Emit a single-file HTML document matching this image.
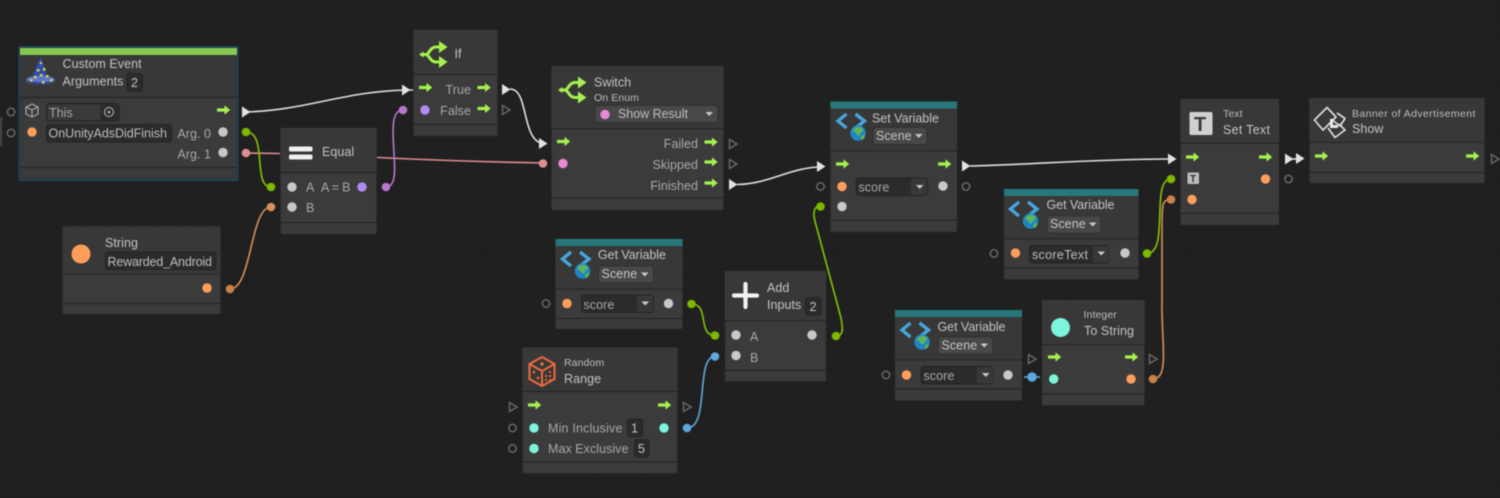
<!DOCTYPE html>
<html><head><meta charset="utf-8"><style>
html,body{margin:0;padding:0;background:#202020;width:1500px;height:498px;overflow:hidden}
svg{display:block;filter:blur(.4px)}
text{font-family:"Liberation Sans",sans-serif;font-size:12.5px;fill:#bdbdbd;letter-spacing:.05px}
.s{font-size:10.5px;letter-spacing:.1px}
.h{fill:#c4c4c4}
.d{fill:#a8a8a8}
.e{text-anchor:end}
.n{fill:#3b3b3b;stroke:#2a2a2a;stroke-width:.5}
.hd{fill:#383838}
.sep{stroke:#252525;stroke-width:1.2}
.f{fill:#2b2b2b;stroke:#242424;stroke-width:1}
.dd{fill:#484848;stroke:#2c2c2c;stroke-width:.8}
.c{fill:none;stroke-width:1.6}
</style></head><body>
<svg width="1500" height="498" viewBox="0 0 1500 498" xmlns="http://www.w3.org/2000/svg">
<defs>
<pattern id="g" width="117.35" height="117.35" patternUnits="userSpaceOnUse" x="12.2" y="16">
<path d="M23.47 0V117.35M46.94 0V117.35M70.41 0V117.35M93.88 0V117.35M0 23.47H117.35M0 46.94H117.35M0 70.41H117.35M0 93.88H117.35" stroke="#1f1f1f" stroke-width="1" fill="none"/>
<path d="M0 0V117.35M0 0H117.35" stroke="#1b1b1b" stroke-width="1" fill="none"/>
</pattern>
<path id="ar" d="M0-1.6H7.5V-4.6L13.2 0 7.5 4.6V1.6H0Z" fill="#a6f04e"/>
<path id="te" d="M-3.5-4.5 4 0-3.5 4.5Z" fill="none" stroke="#6b6b6b" stroke-width="1.4"/>
<path id="tf" d="M-4-5.5 4.5 0-4 5.5Z" fill="#e2e2e2"/>
<circle id="rg" r="3.7" fill="none" stroke="#696969" stroke-width="1.5"/>
<g id="br">
<path d="M-11 0H-7C-4 0-3-7.500 3-7.500H8M-7 0C-4 0-3 7.500 3 7.500H8" fill="none" stroke="#a6f04e" stroke-width="3"/>
<path d="M6-13.500 14.500-7.500 6-1.500ZM6 1.500 14.500 7.500 6 13.500Z" fill="#a6f04e"/>
<path d="M-14 0-9.500-3V3Z" fill="#a6f04e"/>
</g>
<g id="va">
<path d="M-7.500-8-16-1-7.500 6M1.500-8 10.500-1 1.500 6" fill="none" stroke="#45a6dc" stroke-width="3.4"/>
<circle cx="4" cy="11" r="7.700" fill="#1f86c4"/>
<path d="M-1 8C1 4 7 4 9 7 10 10 7 10 6 12 5 15 3 13 2 11 1 10-1 10-1 8ZM7 15C8 13 10 13 11 13 11 16 9 18 7 18Z" fill="#5fb35a"/>
</g>
</defs>
<rect width="1500" height="498" fill="#202020"/>
<rect width="1500" height="498" fill="url(#g)"/>
<rect x="0" y="117" width="2" height="29" fill="#4a4a4a"/>

<!-- connectors behind nodes -->
<path class="c" stroke="#e08d93" d="M246 153 L280 153.5 M377 157.5 C430 160 490 162 543 163"/>
<path class="c" stroke="#e0e0e0" d="M246 112C310 110 345 90 413 90"/>
<path class="c" stroke="#84c400" d="M246 132C268 132 252 187 271 187"/>
<path class="c" stroke="#d7905a" d="M230 289C252 289 250 207 271 207"/>
<path class="c" stroke="#b878cc" d="M386 187C407 187 380 110 403 110"/>
<path class="c" stroke="#e0e0e0" d="M510 89C530 89 520 144 546 144"/>
<path class="c" stroke="#e0e0e0" d="M737 184.500C770 184 790 167 822 167"/>
<path class="c" stroke="#84c400" d="M836 336C845 336 842 325 841 318 L816 225C812 212 814 206 820.500 206.500"/>
<path class="c" stroke="#84c400" d="M691.500 304C710 304 697 335.500 715 335.500"/>
<path class="c" stroke="#5fa8dc" d="M687 428C710 428 695 356.500 715 356.500"/>
<path class="c" stroke="#e0e0e0" d="M970 166C1040 164 1100 159 1170 159"/>
<path class="c" stroke="#84c400" d="M1147 253.500C1170 253 1150 179 1171 179"/>
<path class="c" stroke="#d7905a" d="M1153 379C1170 379 1161 340 1162 300 L1162 225C1162 205 1162 199.500 1171 199.500"/>
<path class="c" stroke="#5fa8dc" d="M1024 377H1040"/>
<path class="c" stroke="#e0e0e0" d="M1290 159H1302"/>

<!-- Custom Event -->
<rect x="18.500" y="46" width="220" height="135" rx="2" fill="#1c4a5c"/>
<rect x="20" y="48" width="217" height="131" class="n"/>
<rect x="20" y="48" width="217" height="7" fill="#85c853"/>
<rect x="20" y="55" width="217" height="42" class="hd"/>
<path class="sep" d="M20 97.500H237M20 167.500H237"/>
<path d="M41 57 C38 62 34 72 32 79 L48 80 C46 72 43 63 41 57Z" fill="#2f4fb0"/>
<ellipse cx="40.500" cy="80" rx="14.500" ry="4.500" fill="#5a78cc"/>
<path d="M26 80C32 86 49 86 55 80 49 83 32 83 26 80Z" fill="#2f4090"/>
<path d="M40 62h2v2h-2ZM37 69h2.500v2.500h-2.500ZM43 68h2.500v2.500h-2.500ZM40 74h2.500v2.500h-2.500ZM34 76h2.500v2.500h-2.500ZM46 75h2.500v2.500h-2.500ZM30 79h2.500v2.500h-2.500ZM50 79h2.500v2.500h-2.500ZM42 81h2.500v2.500h-2.500Z" fill="#e6d23c"/>
<text x="62.500" y="68" class="h">Custom Event</text>
<text x="62.500" y="85.500" class="h">Arguments</text>
<rect x="127" y="73.500" width="15.500" height="17.500" rx="2.500" class="f"/>
<text x="131" y="87" class="h">2</text>
<use href="#rg" x="11" y="112"/><use href="#rg" x="11" y="133"/>
<path d="M32 104 38 107V114L32 117 26 114V107ZM26 107 32 110 38 107M32 110V117" fill="none" stroke="#b5b5b5" stroke-width="1"/>
<rect x="46.500" y="103.500" width="72.500" height="17.500" rx="2.500" class="f"/>
<rect x="47.500" y="104.500" width="53" height="15.500" fill="#3a3a3a"/>
<text x="49" y="117" class="d">This</text>
<circle cx="109" cy="112" r="4.500" fill="none" stroke="#bbb" stroke-width="1"/><circle cx="109" cy="112" r="1.300" fill="#bbb"/>
<circle cx="32" cy="132" r="4.700" fill="#ff9e5a"/>
<rect x="46.500" y="124.500" width="125" height="17.500" rx="2.500" class="f"/>
<text x="48.500" y="137.500" textLength="118.500">OnUnityAdsDidFinish</text>
<text x="211" y="138" class="e d">Arg. 0</text>
<text x="211" y="158.500" class="e d">Arg. 1</text>
<circle cx="223" cy="132" r="4.700" fill="#c8c8c8"/><circle cx="223" cy="152.500" r="4.700" fill="#c8c8c8"/>
<use href="#ar" x="217" y="110"/>
<use href="#tf" x="246" y="112"/>
<circle cx="246" cy="132" r="4.300" fill="#7cb800"/><circle cx="246" cy="153" r="4.300" fill="#e08d93"/>

<!-- Equal -->
<rect x="280.500" y="128" width="96" height="106" rx="1.500" class="n"/>
<rect x="280.500" y="128" width="96" height="44" class="hd"/>
<path class="sep" d="M280.500 172.500H376.500M280.500 222.500H376.500"/>
<rect x="289" y="146.500" width="23.500" height="5" rx="1.500" fill="#f0f0f0"/><rect x="289" y="154.500" width="23.500" height="5" rx="1.500" fill="#f0f0f0"/>
<text x="322" y="156" class="h">Equal</text>
<circle cx="292" cy="187" r="4.700" fill="#c8c8c8"/><circle cx="292" cy="207" r="4.700" fill="#c8c8c8"/>
<text x="306" y="191.500" class="d">A</text><text x="306" y="212" class="d">B</text>
<text x="321" y="191.500" class="d" textLength="29.500">A = B</text>
<circle cx="362" cy="187" r="4.700" fill="#b08cf0"/>
<circle cx="271" cy="187" r="4.300" fill="#7cb800"/><circle cx="271" cy="207" r="4.300" fill="#d7905a"/>
<circle cx="386" cy="187" r="4.300" fill="#b878cc"/>

<!-- String -->
<rect x="62.500" y="226.500" width="158" height="87.500" rx="1.500" class="n"/>
<rect x="62.500" y="226.500" width="158" height="47" class="hd"/>
<path class="sep" d="M62.500 273.800H220.500M62.500 303.500H220.500"/>
<circle cx="81" cy="254" r="9.500" fill="#ff9e5a"/>
<text x="105" y="247" class="h">String</text>
<rect x="105.500" y="252" width="110.500" height="17.500" rx="2.500" class="f"/>
<text x="107.500" y="266" textLength="104.500">Rewarded_Android</text>
<circle cx="207" cy="288" r="4.700" fill="#ff9e5a"/>
<circle cx="230" cy="289" r="4.300" fill="#c98248"/>

<!-- If -->
<rect x="413.500" y="30" width="84" height="106" rx="1.500" class="n"/>
<rect x="413.500" y="30" width="84" height="44" class="hd"/>
<path class="sep" d="M413.500 74.500H497.500M413.500 124.500H497.500"/>
<use href="#br" x="433" y="54.500"/>
<text x="454.500" y="58" class="h">If</text>
<use href="#ar" x="419" y="87.500"/><use href="#ar" x="477.500" y="87.500"/><use href="#ar" x="477.500" y="108.500"/>
<text x="471" y="94" class="e d">True</text><text x="471" y="115" class="e d">False</text>
<circle cx="425" cy="110" r="4.700" fill="#b08cf0"/>
<use href="#tf" x="406" y="90"/><circle cx="403" cy="110" r="4.300" fill="#b878cc"/>
<use href="#tf" x="506" y="89.500"/><use href="#te" x="506" y="110"/>

<!-- Switch -->
<rect x="551.500" y="66" width="172" height="144" rx="1.500" class="n"/>
<rect x="551.500" y="66" width="172" height="62.500" class="hd"/>
<path class="sep" d="M551.500 128.700H723.500M551.500 198H723.500"/>
<use href="#br" x="572" y="90"/>
<text x="594" y="86.500" class="h">Switch</text>
<text x="594" y="101" class="s">On Enum</text>
<rect x="595" y="105.500" width="123" height="17" rx="3" class="dd"/>
<circle cx="605" cy="114.500" r="4.700" fill="#e78ad8"/>
<text x="618" y="118" textLength="70">Show Result</text>
<path d="M705.500 112h7.500l-3.750 4Z" fill="#c8c8c8"/>
<use href="#ar" x="557" y="141.500"/>
<circle cx="563" cy="163.500" r="4.700" fill="#e78ad8"/>
<use href="#tf" x="543" y="143.500"/><circle cx="543" cy="163.500" r="4.300" fill="#e08d93"/>
<text x="698" y="148" class="e d">Failed</text><text x="698" y="169" class="e d">Skipped</text><text x="698" y="190" class="e d">Finished</text>
<use href="#ar" x="704.500" y="142"/><use href="#ar" x="704.500" y="162"/><use href="#ar" x="704.500" y="183"/>
<use href="#te" x="733" y="144"/><use href="#te" x="733" y="164"/><use href="#tf" x="733" y="184.500"/>

<!-- Get Variable score -->
<rect x="555.500" y="239" width="127" height="90" rx="1.500" class="n"/>
<rect x="555.500" y="239" width="127" height="7" fill="#27787a"/>
<rect x="555.500" y="246" width="127" height="43" class="hd"/>
<path class="sep" d="M555.500 289.300H682.500M555.500 318.500H682.500"/>
<use href="#va" x="578.500" y="260"/>
<text x="598" y="259" class="h" textLength="68">Get Variable</text>
<rect x="598.500" y="266" width="55" height="17" rx="3" class="dd"/>
<text x="601.500" y="278" class="h">Scene</text>
<path d="M641 272.500h7.500l-3.750 4Z" fill="#c8c8c8"/>
<use href="#rg" x="546" y="303.500"/>
<circle cx="567" cy="303.500" r="4.700" fill="#ff9e5a"/>
<rect x="581.500" y="295" width="72" height="17.500" rx="2.500" class="f"/><rect x="637" y="295.500" width="16" height="16.500" rx="1.500" fill="#383838"/>
<text x="583.500" y="309" class="d">score</text>
<path d="M641.500 301.500h7.500l-3.750 4Z" fill="#c8c8c8"/>
<circle cx="668.500" cy="303.500" r="4.700" fill="#c8c8c8"/>
<circle cx="691.500" cy="304" r="4.300" fill="#7cb800"/>

<!-- Add -->
<rect x="725" y="271" width="101" height="110.500" rx="1.500" class="n"/>
<rect x="725" y="271" width="101" height="49.500" class="hd"/>
<path class="sep" d="M725 320.800H826M725 370.500H826"/>
<path d="M745.500 284V307M734 295.500H757" stroke="#f2f2f2" stroke-width="4.200" stroke-linecap="round"/>
<text x="767" y="292" class="h">Add</text><text x="767" y="309" class="h">Inputs</text>
<rect x="805.500" y="297.500" width="15.500" height="17.500" rx="2.500" class="f"/>
<text x="809.500" y="311" class="h">2</text>
<circle cx="736" cy="335" r="4.700" fill="#c8c8c8"/><circle cx="736" cy="355.500" r="4.700" fill="#c8c8c8"/>
<text x="750" y="341" class="d">A</text><text x="750" y="362" class="d">B</text>
<circle cx="812" cy="335" r="4.700" fill="#c8c8c8"/>
<circle cx="715" cy="335.500" r="4.300" fill="#7cb800"/><circle cx="715" cy="356.500" r="4.300" fill="#5fa8dc"/>
<circle cx="836" cy="336" r="4.300" fill="#7cb800"/>

<!-- Random -->
<rect x="522.500" y="347.500" width="155" height="126" rx="1.500" class="n"/>
<rect x="522.500" y="347.500" width="155" height="44" class="hd"/>
<path class="sep" d="M522.500 391.500H677.500M522.500 462H677.500"/>
<path d="M542 357 554.500 364V379L542 386 529.500 379V364ZM529.500 364 542 371 554.500 364M542 371V386" fill="none" stroke="#ee6a3c" stroke-width="2"/>
<circle cx="542" cy="364" r="1.700" fill="#ee6a3c"/><circle cx="534" cy="372" r="1.300" fill="#ee6a3c"/><circle cx="538" cy="378" r="1.300" fill="#ee6a3c"/>
<circle cx="546" cy="376" r="1.100" fill="#ee6a3c"/><circle cx="550" cy="372" r="1.100" fill="#ee6a3c"/><circle cx="550" cy="376" r="1.100" fill="#ee6a3c"/><circle cx="546" cy="380" r="1.100" fill="#ee6a3c"/><circle cx="550" cy="380" r="1.100" fill="#ee6a3c"/>
<text x="564" y="366" class="s">Random</text>
<text x="564" y="383" class="h">Range</text>
<use href="#ar" x="528" y="405"/><use href="#ar" x="658" y="405"/>
<use href="#te" x="513" y="407"/><use href="#te" x="687" y="407"/>
<use href="#rg" x="512.500" y="428"/><use href="#rg" x="512.500" y="448.500"/>
<circle cx="534" cy="428" r="4.700" fill="#7cf5dc"/><circle cx="534" cy="448.500" r="4.700" fill="#7cf5dc"/>
<text x="548" y="432.500" class="d" textLength="74.500">Min Inclusive</text>
<text x="548" y="453" class="d" textLength="80.500">Max Exclusive</text>
<rect x="627.500" y="419" width="15" height="17.500" rx="2.500" class="f"/><text x="631" y="432.500" class="h">1</text>
<rect x="634.500" y="439.500" width="14.500" height="17.500" rx="2.500" class="f"/><text x="638" y="453" class="h">5</text>
<circle cx="664" cy="428" r="4.700" fill="#7cf5dc"/>
<circle cx="687" cy="428" r="4.300" fill="#5fa8dc"/>

<!-- Set Variable -->
<rect x="830.500" y="101.500" width="126.500" height="130.500" rx="1.500" class="n"/>
<rect x="830.500" y="101.500" width="126.500" height="7" fill="#27787a"/>
<rect x="830.500" y="108.500" width="126.500" height="42" class="hd"/>
<path class="sep" d="M830.500 150.800H957M830.500 220.300H957"/>
<use href="#va" x="854" y="122"/>
<text x="872" y="122.500" class="h" textLength="67">Set Variable</text>
<rect x="873" y="127.500" width="54" height="17" rx="3" class="dd"/>
<text x="876" y="140" class="h">Scene</text>
<path d="M915 134h7.500l-3.750 4Z" fill="#c8c8c8"/>
<use href="#ar" x="836" y="164"/><use href="#ar" x="938" y="164"/>
<use href="#tf" x="821" y="166.500"/><use href="#tf" x="966" y="166"/>
<use href="#rg" x="820.500" y="186.500"/><use href="#rg" x="966" y="186.500"/>
<circle cx="842" cy="186.500" r="4.700" fill="#ff9e5a"/>
<rect x="856" y="178" width="71.500" height="17.500" rx="2.500" class="f"/><rect x="911" y="178.500" width="16" height="16.500" rx="1.500" fill="#383838"/>
<text x="858.500" y="191.500" class="d">score</text>
<path d="M916 185h7.500l-3.750 4Z" fill="#c8c8c8"/>
<circle cx="943" cy="186" r="4.700" fill="#c8c8c8"/>
<circle cx="842" cy="206.500" r="4.700" fill="#c8c8c8"/>
<circle cx="820.500" cy="206.500" r="4.300" fill="#7cb800"/>

<!-- Get Variable scoreText -->
<rect x="1004" y="189" width="134.500" height="90.500" rx="1.500" class="n"/>
<rect x="1004" y="189" width="134.500" height="7" fill="#27787a"/>
<rect x="1004" y="196" width="134.500" height="42.500" class="hd"/>
<path class="sep" d="M1004 238.800H1138.500M1004 268H1138.500"/>
<use href="#va" x="1026.500" y="210"/>
<text x="1046.500" y="209" class="h" textLength="68">Get Variable</text>
<rect x="1047" y="216" width="54" height="17" rx="3" class="dd"/>
<text x="1050" y="228" class="h">Scene</text>
<path d="M1089 222.500h7.500l-3.750 4Z" fill="#c8c8c8"/>
<use href="#rg" x="994" y="253.500"/>
<circle cx="1015.500" cy="253" r="4.700" fill="#ff9e5a"/>
<rect x="1029.500" y="245.500" width="79.500" height="17.500" rx="2.500" class="f"/><rect x="1093" y="246" width="16" height="16.500" rx="1.500" fill="#383838"/>
<text x="1032" y="259" textLength="56">scoreText</text>
<path d="M1097.500 251.500h7.500l-3.750 4Z" fill="#c8c8c8"/>
<circle cx="1125" cy="253" r="4.700" fill="#c8c8c8"/>
<circle cx="1147" cy="253.500" r="4.300" fill="#7cb800"/>

<!-- Get Variable score 2 -->
<rect x="895" y="310" width="127" height="90.500" rx="1.500" class="n"/>
<rect x="895" y="310" width="127" height="7" fill="#27787a"/>
<rect x="895" y="317" width="127" height="42.500" class="hd"/>
<path class="sep" d="M895 359.800H1022M895 389H1022"/>
<use href="#va" x="918" y="331"/>
<text x="937.500" y="331" class="h" textLength="68">Get Variable</text>
<rect x="938" y="337" width="55" height="17" rx="3" class="dd"/>
<text x="941.500" y="349.500" class="h">Scene</text>
<path d="M980.500 343.500h7.500l-3.750 4Z" fill="#c8c8c8"/>
<use href="#rg" x="886" y="375"/>
<circle cx="906.500" cy="375" r="4.700" fill="#ff9e5a"/>
<rect x="921" y="366.500" width="72" height="17.500" rx="2.500" class="f"/><rect x="977" y="367" width="16" height="16.500" rx="1.500" fill="#383838"/>
<text x="923.500" y="380" class="d">score</text>
<path d="M982 373h7.500l-3.750 4Z" fill="#c8c8c8"/>
<circle cx="1008" cy="375" r="4.700" fill="#c8c8c8"/>
<use href="#te" x="1032" y="359"/>
<circle cx="1032" cy="377" r="4.800" fill="#5fa8dc"/>

<!-- Integer -->
<rect x="1042" y="300" width="102.500" height="105.500" rx="1.500" class="n"/>
<rect x="1042" y="300" width="102.500" height="44.500" class="hd"/>
<path class="sep" d="M1042 344.800H1144.500M1042 394H1144.500"/>
<circle cx="1060.500" cy="327.500" r="9.500" fill="#7cf5dc"/>
<text x="1083.500" y="318" class="s">Integer</text>
<text x="1084" y="335" class="h" textLength="50">To String</text>
<use href="#ar" x="1048" y="357"/><use href="#ar" x="1125" y="357"/>
<circle cx="1053.700" cy="379" r="4.700" fill="#7cf5dc"/>
<circle cx="1131" cy="379" r="4.700" fill="#ff9e5a"/>
<circle cx="1153" cy="379" r="4.300" fill="#c98248"/>
<use href="#te" x="1153" y="359"/>

<!-- Text Set Text -->
<rect x="1180.500" y="99" width="98.500" height="126" rx="1.500" class="n"/>
<rect x="1180.500" y="99" width="98.500" height="44" class="hd"/>
<path class="sep" d="M1180.500 143.300H1279M1180.500 213.300H1279"/>
<rect x="1189.500" y="112" width="23" height="23" rx="1.500" fill="#d0d0d0"/>
<text x="1194" y="131" style="font-size:20px;font-weight:bold;fill:#3a3a3a;letter-spacing:0">T</text>
<text x="1223" y="117" class="s">Text</text>
<text x="1223" y="134" class="h" textLength="47">Set Text</text>
<use href="#ar" x="1186" y="157"/><use href="#ar" x="1259" y="157"/>
<rect x="1187.500" y="172.500" width="11.500" height="11.500" rx="1" fill="#bdbdbd"/>
<text x="1190" y="182" style="font-size:10px;font-weight:bold;fill:#333;letter-spacing:0">T</text>
<circle cx="1192" cy="199.500" r="4.700" fill="#ff9e5a"/>
<circle cx="1265.500" cy="179" r="4.700" fill="#ff9e5a"/>
<use href="#tf" x="1172" y="159"/>
<circle cx="1171" cy="179" r="4.300" fill="#7cb800"/><circle cx="1171" cy="199.500" r="4.300" fill="#c98248"/>
<use href="#tf" x="1289" y="159"/><use href="#tf" x="1300" y="158.500"/>
<use href="#rg" x="1288.500" y="179"/>

<!-- Banner -->
<rect x="1309.500" y="98" width="175" height="85" rx="1.500" class="n"/>
<rect x="1309.500" y="98" width="175" height="44" class="hd"/>
<path class="sep" d="M1309.500 142.300H1484.500M1309.500 172.500H1484.500"/>
<g fill="none" stroke="#dcdcdc" stroke-width="1.700" stroke-linejoin="round">
<path d="M1327 107.500 1336 117 1323 130 1314.500 120Z"/>
<path d="M1337 113 1345 118.500 1340 126 1331 119"/>
<path d="M1328 128 1335 137.500 1345 130 1339 124"/>
</g>
<path d="M1330 119h3v6h5v3h-8Z" fill="#e6e6e6"/>
<text x="1352" y="117" class="s" textLength="123.500">Banner of Advertisement</text>
<text x="1352" y="133" class="h">Show</text>
<use href="#ar" x="1315" y="156"/><use href="#ar" x="1466" y="156"/>
<use href="#te" x="1495" y="159"/>
</svg>
</body></html>
